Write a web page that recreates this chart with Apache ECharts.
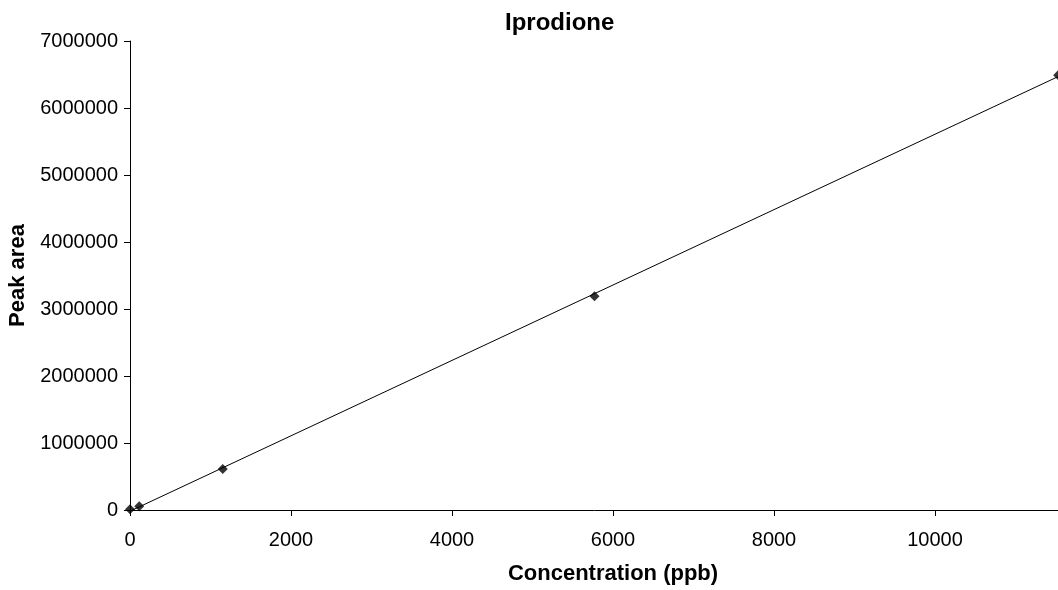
<!DOCTYPE html>
<html>
<head>
<meta charset="utf-8">
<script src="https://cdn.jsdelivr.net/npm/echarts@6/dist/echarts.min.js"></script>
<style>html,body{margin:0;padding:0;background:#fff;}#c{width:1058px;height:590px;}</style>
</head>
<body>
<div id="c"></div>
<script>
var title = 'Iprodione';
var xName = 'Concentration (ppb)';
var yName = 'Peak area';
var concentration = [0, 115, 1152, 5770, 11530];
var peakArea = [10000, 55000, 612000, 3190000, 6490000];

// linear least-squares trendline from the points
var n = concentration.length, mx = 0, my = 0;
for (var i = 0; i < n; i++) { mx += concentration[i]; my += peakArea[i]; }
mx /= n; my /= n;
var sxy = 0, sxx = 0;
for (var i = 0; i < n; i++) { sxy += (concentration[i]-mx)*(peakArea[i]-my); sxx += (concentration[i]-mx)*(concentration[i]-mx); }
var slope = sxy / sxx, intercept = my - slope * mx;
var trendX = [0, 12000];
var trend = trendX.map(function (x) { return [x, intercept + slope * x]; });

var pts = concentration.map(function (x, i) { return [x, peakArea[i]]; });
var font = '"Liberation Sans", Arial, sans-serif';
var plain = function (v) { return String(v); };
var chart = echarts.init(document.getElementById('c'), null, {renderer: 'canvas'});
chart.setOption({
  animation: false,
  backgroundColor: '#fff',
  title: {text: title, left: 505, top: 11, padding: 0,
    textStyle: {fontFamily: font, fontSize: 24, fontWeight: 'bold', color: '#000'}},
  grid: {left: 130, top: 41, width: 966, height: 469, containLabel: false, outerBoundsMode: 'none'},
  xAxis: {
    type: 'value', min: 0, max: 12000, interval: 2000,
    name: xName, nameLocation: 'middle', nameGap: 53,
    nameTextStyle: {fontFamily: font, fontSize: 22, fontWeight: 'bold', color: '#000'},
    axisLine: {lineStyle: {color: '#000', width: 1}},
    axisTick: {show: true, length: 6, lineStyle: {color: '#000'}},
    axisLabel: {margin: 20, fontFamily: font, fontSize: 20, color: '#000', formatter: plain},
    splitLine: {show: false}
  },
  yAxis: {
    type: 'value', min: 0, max: 7000000, interval: 1000000,
    name: yName, nameLocation: 'middle', nameGap: 100,
    nameTextStyle: {fontFamily: font, fontSize: 22, fontWeight: 'bold', color: '#000'},
    axisLine: {show: true, lineStyle: {color: '#000', width: 1}},
    axisTick: {show: true, length: 6, lineStyle: {color: '#000'}},
    axisLabel: {margin: 12, fontFamily: font, fontSize: 20, color: '#000', formatter: plain},
    splitLine: {show: false}
  },
  series: [
    {type: 'line', data: trend, symbol: 'none', lineStyle: {color: '#000', width: 1}, z: 2},
    {type: 'scatter', data: pts, symbol: 'diamond', symbolSize: 10, itemStyle: {color: '#000'}, z: 3, clip: false}
  ]
});
</script>
</body>
</html>
